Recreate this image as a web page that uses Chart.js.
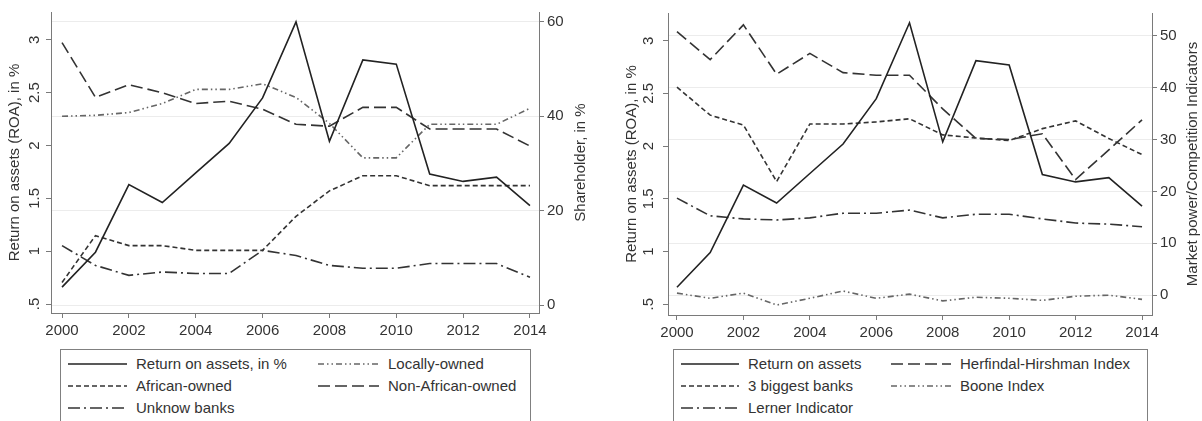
<!DOCTYPE html>
<html>
<head>
<meta charset="utf-8">
<title>ROA and banking indicators</title>
<script src="https://cdn.jsdelivr.net/npm/chart.js@4.4.1/dist/chart.umd.min.js"></script>
<style>
  body { margin: 0; background: #fff; width: 1202px; height: 421px; overflow: hidden; position: relative; font-family: "Liberation Sans", Arial, sans-serif; }
  canvas { position: absolute; top: 0; }
  #left { left: 0; }
  #right { left: 600px; }
  .legbox { position: absolute; top: 349px; height: 90px; border: 1px solid #808080; box-sizing: border-box; }
  .item { position: absolute; height: 20px; line-height: 20px; font-size: 15px; color: #333; white-space: nowrap; }
  .item svg { position: absolute; left: 0; top: 0; }
  .item span { position: absolute; top: 0; }
</style>
</head>
<body>
<canvas id="left" width="595" height="345"></canvas>
<canvas id="right" width="602" height="345"></canvas>
<div id="legLeft" class="legbox" style="left:60px;width:471px"></div>
<div id="legRight" class="legbox" style="left:673px;width:475px"></div>

<script>
// data
var years = [2000, 2001, 2002, 2003, 2004, 2005, 2006, 2007, 2008, 2009, 2010, 2011, 2012, 2013, 2014];
var xTicks = [2000, 2002, 2004, 2006, 2008, 2010, 2012, 2014];

var roa = [0.66, 0.99, 1.63, 1.46, 1.74, 2.02, 2.45, 3.17, 2.04, 2.81, 2.77, 1.73, 1.66, 1.70, 1.43];
var roaTicks = [0.5, 1, 1.5, 2, 2.5, 3];
var roaTickLabels = ['.5', '1', '1.5', '2', '2.5', '3'];

// left panel, shareholder shares in %
var locallyOwned = [40.0, 40.2, 40.8, 42.7, 45.7, 45.7, 46.9, 44.0, 38.5, 31.2, 31.2, 38.3, 38.3, 38.3, 41.7];
var africanOwned = [4.8, 14.7, 12.6, 12.6, 11.6, 11.6, 11.6, 18.8, 24.2, 27.4, 27.4, 25.3, 25.3, 25.3, 25.3];
var nonAfricanOwned = [55.6, 44.0, 46.7, 45.0, 42.7, 43.2, 41.5, 38.3, 37.9, 41.9, 41.9, 37.3, 37.3, 37.3, 33.7];
var unknowBanks = [12.6, 8.4, 6.3, 7.0, 6.7, 6.7, 11.6, 10.5, 8.4, 7.8, 7.8, 8.8, 8.8, 8.8, 5.9];
var shareTicks = [0, 20, 40, 60];

// right panel, market power / competition
var hhi = [50.8, 45.4, 52.1, 42.6, 46.6, 42.9, 42.4, 42.4, 35.9, 30.2, 30.0, 31.1, 22.3, 28.0, 33.8];
var biggest3 = [40.1, 34.7, 32.8, 21.9, 33.0, 33.0, 33.4, 34.0, 30.9, 30.3, 29.8, 32.1, 33.6, 30.2, 27.1];
var lerner = [18.7, 15.3, 14.7, 14.5, 14.9, 15.8, 15.8, 16.4, 14.9, 15.6, 15.6, 14.7, 13.9, 13.7, 13.2];
var boone = [0.4, -0.6, 0.4, -1.9, -0.6, 0.8, -0.6, 0.2, -1.1, -0.4, -0.6, -1.0, -0.2, 0.0, -0.8];
var compTicks = [0, 10, 20, 30, 40, 50];

var FONT = '"Liberation Sans", Arial, sans-serif';
var AXIS = '#7a7a7a';
var TXT = '#333';

// line styles (stata-ish)
var styles = {
  solid:   { dash: [], color: '#222' },
  shdash:  { dash: [5, 3], color: '#333' },
  longdash:{ dash: [12, 5], color: '#333' },
  longdot: { dash: [12, 4, 2, 4], color: '#333' },
  dashdot2:{ dash: [6, 3, 1.5, 3, 1.5, 3], color: '#666' }
};

function pts(vals) {
  return years.map(function (yr, i) { return { x: yr, y: vals[i] }; });
}

function line(label, vals, st, axis) {
  return {
    label: label,
    data: pts(vals),
    yAxisID: axis,
    borderColor: styles[st].color,
    borderDash: styles[st].dash,
    borderWidth: 1.6,
    pointRadius: 0,
    tension: 0,
    fill: false
  };
}

function setTicks(list) {
  return function (scale) { scale.ticks = list.map(function (v) { return { value: v }; }); };
}

// right axis title reads bottom-to-top in the original
var rightTitle = {
  id: 'rightTitle',
  afterDraw: function (chart, args, opts) {
    var ctx = chart.ctx, a = chart.chartArea;
    ctx.save();
    ctx.translate(opts.x, (a.top + a.bottom) / 2);
    ctx.rotate(-Math.PI / 2);
    ctx.font = '15px ' + FONT;
    ctx.fillStyle = TXT;
    ctx.textAlign = 'center';
    ctx.textBaseline = 'middle';
    ctx.fillText(opts.text, 0, 0);
    ctx.restore();
  }
};

function makeChart(id, p) {
  return new Chart(document.getElementById(id), {
    type: 'line',
    data: { datasets: p.datasets },
    plugins: [rightTitle],
    options: {
      responsive: false,
      animation: false,
      layout: { padding: { top: 10, left: 0, right: 0, bottom: 0 } },
      plugins: {
        legend: { display: false },
        tooltip: { enabled: false },
        rightTitle: { text: p.rightTitle, x: p.rightTitleX }
      },
      scales: {
        x: {
          type: 'linear',
          min: p.xMin, max: p.xMax,
          afterBuildTicks: setTicks(xTicks),
          afterFit: function (s) { s.height = p.xH; },
          border: { color: AXIS, width: 1 },
          grid: { drawOnChartArea: false, tickLength: 5, tickColor: AXIS },
          ticks: { color: TXT, font: { family: FONT, size: 15 }, padding: 4, maxRotation: 0,
                   callback: function (v) { return String(v); } }
        },
        y: {
          position: 'left',
          min: p.yMin, max: p.yMax,
          afterBuildTicks: setTicks(roaTicks),
          afterFit: function (s) { s.width = p.yW; },
          border: { color: AXIS, width: 1 },
          grid: { drawOnChartArea: false, tickLength: 5, tickColor: AXIS },
          ticks: { color: TXT, font: { family: FONT, size: 15 }, padding: p.yPad,
                   minRotation: 90, maxRotation: 90, crossAlign: 'center',
                   callback: function (v, i) { return roaTickLabels[i]; } },
          title: { display: true, text: 'Return on assets (ROA), in %', color: TXT,
                   font: { family: FONT, size: 15 }, padding: { top: p.titlePad, bottom: 0 } }
        },
        y1: {
          position: 'right',
          min: p.y1Min, max: p.y1Max,
          afterBuildTicks: setTicks(p.y1Ticks),
          afterFit: function (s) { s.width = p.y1W; },
          border: { color: AXIS, width: 1 },
          grid: { drawOnChartArea: true, color: '#ececec', lineWidth: 1, tickLength: 5, tickColor: AXIS },
          ticks: { color: TXT, font: { family: FONT, size: 15 }, padding: 3,
                   callback: function (v) { return String(v); } }
        }
      }
    }
  });
}

makeChart('left', {
  datasets: [
    line('Return on assets, in %', roa, 'solid', 'y'),
    line('Locally-owned', locallyOwned, 'dashdot2', 'y1'),
    line('African-owned', africanOwned, 'shdash', 'y1'),
    line('Non-African-owned', nonAfricanOwned, 'longdash', 'y1'),
    line('Unknow banks', unknowBanks, 'longdot', 'y1')
  ],
  xMin: 1999.67, xMax: 2014.27, xH: 32,
  yMin: 0.415, yMax: 3.263, yW: 51, yPad: 1, titlePad: 6,
  y1Min: -1.68, y1Max: 62.1, y1W: 56, y1Ticks: shareTicks,
  rightTitle: 'Shareholder, in %', rightTitleX: 581
});

makeChart('right', {
  datasets: [
    line('Return on assets', roa, 'solid', 'y'),
    line('Herfindal-Hirshman Index', hhi, 'longdash', 'y1'),
    line('3 biggest banks', biggest3, 'shdash', 'y1'),
    line('Boone Index', boone, 'dashdot2', 'y1'),
    line('Lerner Indicator', lerner, 'longdot', 'y1')
  ],
  xMin: 1999.73, xMax: 2014.3, xH: 30,
  yMin: 0.397, yMax: 3.263, yW: 68, yPad: 4, titlePad: 23,
  y1Min: -3.82, y1Max: 54.39, y1W: 50, y1Ticks: compTicks,
  rightTitle: 'Market power/Competition Indicators', rightTitleX: 593
});

// legends: box with two columns, line sample + text
function legend(boxId, items) {
  var box = document.getElementById(boxId);
  var bx = box.offsetLeft, by = box.offsetTop;
  items.forEach(function (it) {
    var st = styles[it.style];
    var d = document.createElement('div');
    d.className = 'item';
    d.style.left = (it.x - bx - 1) + 'px';
    d.style.top = (it.y - by - 11) + 'px';
    d.style.width = '260px';
    d.innerHTML = '<svg width="' + (it.w + 2) + '" height="20"><line x1="1" y1="10" x2="' + (it.w + 1) +
      '" y2="10" stroke="' + st.color + '" stroke-width="1.6" stroke-dasharray="' + st.dash.join(',') + '"/></svg>' +
      '<span style="left:' + (it.w + 10) + 'px">' + it.label + '</span>';
    box.appendChild(d);
  });
}

legend('legLeft', [
  { label: 'Return on assets, in %', style: 'solid', x: 67, y: 364, w: 59 },
  { label: 'Locally-owned', style: 'dashdot2', x: 317, y: 364, w: 61 },
  { label: 'African-owned', style: 'shdash', x: 67, y: 386, w: 59 },
  { label: 'Non-African-owned', style: 'longdash', x: 317, y: 386, w: 61 },
  { label: 'Unknow banks', style: 'longdot', x: 67, y: 408, w: 59 }
]);

legend('legRight', [
  { label: 'Return on assets', style: 'solid', x: 680, y: 364, w: 58 },
  { label: 'Herfindal-Hirshman Index', style: 'longdash', x: 890, y: 364, w: 60 },
  { label: '3 biggest banks', style: 'shdash', x: 680, y: 386, w: 58 },
  { label: 'Boone Index', style: 'dashdot2', x: 890, y: 386, w: 60 },
  { label: 'Lerner Indicator', style: 'longdot', x: 680, y: 408, w: 58 }
]);
</script>
</body>
</html>
